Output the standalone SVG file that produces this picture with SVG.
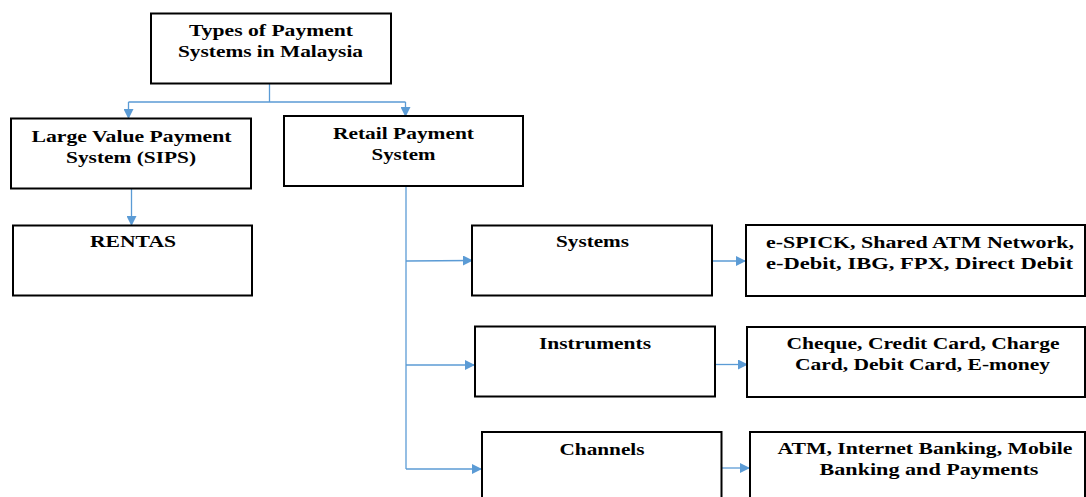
<svg xmlns="http://www.w3.org/2000/svg" width="1086" height="497" viewBox="0 0 1086 497">
<defs>
<style>
.box{fill:#fff;stroke:#000;stroke-width:2}
.t{font-family:'Liberation Serif',serif;font-weight:bold;font-size:17px;fill:#000;text-anchor:middle}
.c{fill:none;stroke:#5B9BD5;stroke-width:1.3}
</style>
<marker id="ah" markerWidth="10" markerHeight="10" refX="9" refY="5" orient="auto" markerUnits="userSpaceOnUse">
<path d="M0,0 L10,5 L0,10 Z" fill="#5B9BD5"/>
</marker>
</defs>
<g id="connectors">
<path class="c" d="M269.5,83 V102 M128.5,102 H405.5"/>
<path class="c" d="M128.5,102 V118" marker-end="url(#ah)"/>
<path class="c" d="M405.5,102 V116" marker-end="url(#ah)"/>
<path class="c" d="M131.5,188 V225" marker-end="url(#ah)"/>
<path class="c" d="M406,186 V469"/>
<path class="c" d="M406,261 L472,260.5" marker-end="url(#ah)"/>
<path class="c" d="M406,365 H474" marker-end="url(#ah)"/>
<path class="c" d="M406,469 H481" marker-end="url(#ah)"/>
<path class="c" d="M712,261 H745" marker-end="url(#ah)"/>
<path class="c" d="M715,364.5 H747" marker-end="url(#ah)"/>
<path class="c" d="M721,468 H749" marker-end="url(#ah)"/>
</g>
<g id="root">
<rect class="box" x="151" y="13.5" width="240" height="70"/>
<text class="t" x="271" y="36" textLength="164" lengthAdjust="spacingAndGlyphs">Types of Payment</text>
<text class="t" x="270.5" y="57" textLength="185" lengthAdjust="spacingAndGlyphs">Systems in Malaysia</text>
</g>
<g id="large-value">
<rect class="box" x="11" y="118.5" width="240" height="70"/>
<text class="t" x="131.5" y="142" textLength="200" lengthAdjust="spacingAndGlyphs">Large Value Payment</text>
<text class="t" x="131" y="163" textLength="130" lengthAdjust="spacingAndGlyphs">System (SIPS)</text>
</g>
<g id="retail">
<rect class="box" x="284" y="116" width="239" height="70"/>
<text class="t" x="403.5" y="139" textLength="141" lengthAdjust="spacingAndGlyphs">Retail Payment</text>
<text class="t" x="403.5" y="160" textLength="64" lengthAdjust="spacingAndGlyphs">System</text>
</g>
<g id="rentas">
<rect class="box" x="13" y="225.5" width="239" height="70"/>
<text class="t" x="133" y="247" textLength="86" lengthAdjust="spacingAndGlyphs">RENTAS</text>
</g>
<g id="systems">
<rect class="box" x="472" y="225.5" width="240" height="70"/>
<text class="t" x="592.5" y="247" textLength="73" lengthAdjust="spacingAndGlyphs">Systems</text>
</g>
<g id="systems-list">
<rect class="box" x="746" y="225" width="339" height="71"/>
<text class="t" x="920" y="248" textLength="308" lengthAdjust="spacingAndGlyphs">e-SPICK, Shared ATM Network,</text>
<text class="t" x="919.5" y="269" textLength="307" lengthAdjust="spacingAndGlyphs">e-Debit, IBG, FPX, Direct Debit</text>
</g>
<g id="instruments">
<rect class="box" x="475" y="326.5" width="240" height="70"/>
<text class="t" x="595" y="349" textLength="112" lengthAdjust="spacingAndGlyphs">Instruments</text>
</g>
<g id="instruments-list">
<rect class="box" x="747" y="327" width="338" height="70"/>
<text class="t" x="923" y="349" textLength="273" lengthAdjust="spacingAndGlyphs">Cheque, Credit Card, Charge</text>
<text class="t" x="922.5" y="370" textLength="255" lengthAdjust="spacingAndGlyphs">Card, Debit Card, E-money</text>
</g>
<g id="channels">
<rect class="box" x="482" y="432" width="239.5" height="80"/>
<text class="t" x="602" y="455" textLength="85" lengthAdjust="spacingAndGlyphs">Channels</text>
</g>
<g id="channels-list">
<rect class="box" x="750" y="432" width="335" height="80"/>
<text class="t" x="925" y="454" textLength="295" lengthAdjust="spacingAndGlyphs">ATM, Internet Banking, Mobile</text>
<text class="t" x="929" y="475" textLength="219" lengthAdjust="spacingAndGlyphs">Banking and Payments</text>
</g>
</svg>
